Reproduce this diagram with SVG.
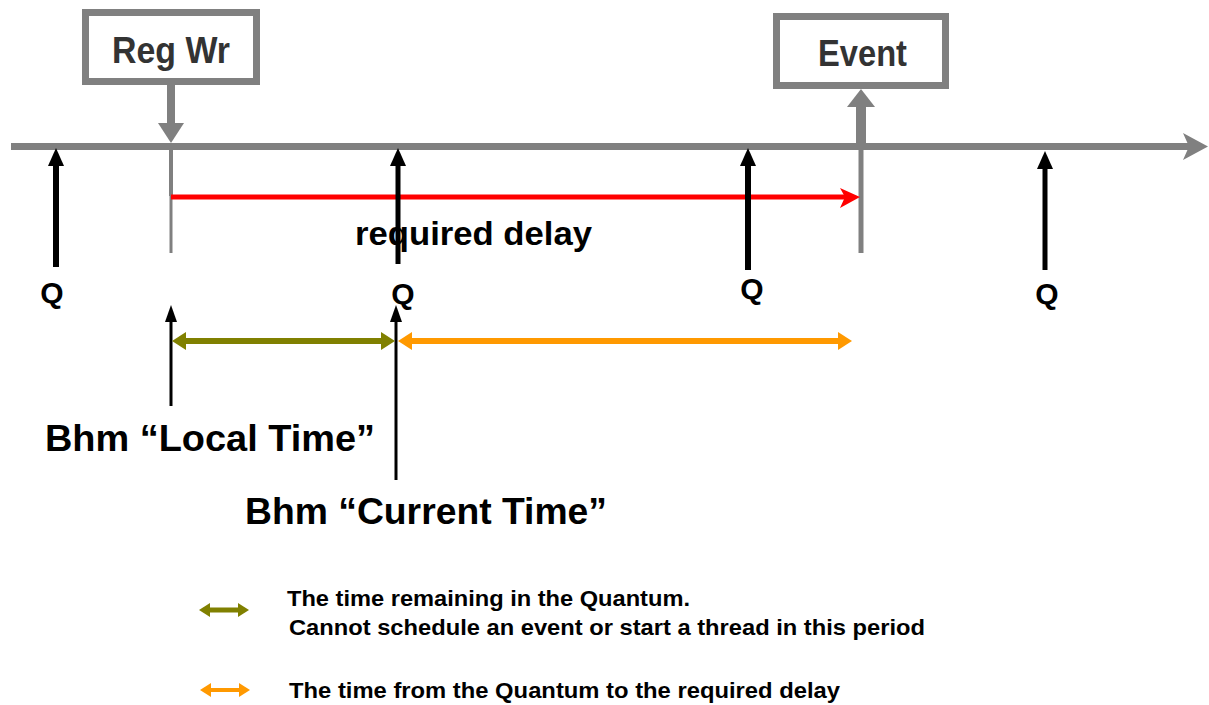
<svg xmlns="http://www.w3.org/2000/svg" width="1209" height="705" viewBox="0 0 1209 705">
<style>
.t{font-family:"Liberation Sans",Arial,sans-serif;font-weight:bold;fill:#000}
.box{fill:#fff;stroke:#808080;stroke-width:7}
.boxt{font-family:"Liberation Sans",Arial,sans-serif;font-weight:bold;fill:#333;font-size:37px}
.gray{stroke:#808080;fill:none}
.blk{stroke:#000;fill:none}
</style>
<rect width="1209" height="705" fill="#fff"/>
<g id="connectors">
  <!-- main time axis -->
  <line class="gray" x1="11" y1="146.5" x2="1192" y2="146.5" stroke-width="7"/>
  <polygon points="1183,133 1208,146.5 1183,160 1189,146.5" fill="#808080"/>
  <!-- Reg Wr arrow down -->
  <line class="gray" x1="171" y1="85" x2="171" y2="126" stroke-width="8"/>
  <polygon points="158,123 184,123 171,143" fill="#808080"/>
  <line class="gray" x1="171" y1="150" x2="171" y2="196" stroke-width="4"/>
  <line class="gray" x1="171" y1="196" x2="171" y2="253" stroke-width="3"/>
  <!-- Event arrow up -->
  <line class="gray" x1="861" y1="104" x2="861" y2="147" stroke-width="10"/>
  <polygon points="847,107 875,107 861,89" fill="#808080"/>
  <line class="gray" x1="861" y1="150" x2="861" y2="253" stroke-width="5"/>
  <!-- required delay -->
  <line x1="171" y1="197" x2="846" y2="197" stroke="#ff0000" stroke-width="5"/>
  <polygon points="840,188 860,197 840,208 845,197" fill="#ff0000"/>
  <!-- Q arrows -->
  <line class="blk" x1="56" y1="160" x2="56" y2="267" stroke-width="6"/>
  <polygon points="48,166 64,166 56,148" fill="#000"/>
  <line class="blk" x1="398" y1="160" x2="398" y2="264" stroke-width="5"/>
  <polygon points="390,166 406,166 398,148" fill="#000"/>
  <line class="blk" x1="748" y1="160" x2="748" y2="270" stroke-width="6"/>
  <polygon points="740,166 756,166 748,148" fill="#000"/>
  <line class="blk" x1="1045" y1="164" x2="1045" y2="270" stroke-width="5"/>
  <polygon points="1037,169 1053,169 1045,151" fill="#000"/>
  <!-- Local / Current time arrows -->
  <line class="blk" x1="171" y1="318" x2="171" y2="406" stroke-width="3"/>
  <polygon points="165,322 177,322 171,305" fill="#000"/>
  <line class="blk" x1="396" y1="318" x2="396" y2="480" stroke-width="3"/>
  <polygon points="390,322 402,322 396,305" fill="#000"/>
  <!-- olive double arrow -->
  <line x1="180" y1="341" x2="387" y2="341" stroke="#808000" stroke-width="6"/>
  <polygon points="172,341 186,332 186,350" fill="#808000"/>
  <polygon points="395,341 381,332 381,350" fill="#808000"/>
  <!-- orange double arrow -->
  <line x1="406" y1="341" x2="844" y2="341" stroke="#ff9900" stroke-width="6"/>
  <polygon points="398,341 412,332 412,350" fill="#ff9900"/>
  <polygon points="852,341 838,332 838,350" fill="#ff9900"/>
  <!-- legend arrows -->
  <line x1="206" y1="610" x2="242" y2="610" stroke="#808000" stroke-width="5"/>
  <polygon points="199,610 210,603 210,617" fill="#808000"/>
  <polygon points="249,610 238,603 238,617" fill="#808000"/>
  <line x1="207" y1="690" x2="243" y2="690" stroke="#ff9900" stroke-width="4"/>
  <polygon points="200,690 211,683 211,697" fill="#ff9900"/>
  <polygon points="250,690 239,683 239,697" fill="#ff9900"/>
</g>
<g id="regwr">
  <rect class="box" x="85.5" y="12.5" width="171" height="69"/>
  <text class="boxt" x="112" y="63" textLength="118" lengthAdjust="spacingAndGlyphs">Reg Wr</text>
</g>
<g id="event">
  <rect class="box" x="776.5" y="16.5" width="169" height="69"/>
  <text class="boxt" x="818" y="66" textLength="89" lengthAdjust="spacingAndGlyphs">Event</text>
</g>
<g id="q-labels">
  <text class="t" x="52" y="303" font-size="30" text-anchor="middle">Q</text>
  <text class="t" x="403" y="304" font-size="30" text-anchor="middle">Q</text>
  <text class="t" x="752" y="299" font-size="30" text-anchor="middle">Q</text>
  <text class="t" x="1047" y="304" font-size="30" text-anchor="middle">Q</text>
</g>
<g id="required-delay">
  <text class="t" x="355" y="245" font-size="34" textLength="237" lengthAdjust="spacingAndGlyphs">required delay</text>
</g>
<g id="local-time">
  <text class="t" x="45" y="451" font-size="37" textLength="330" lengthAdjust="spacingAndGlyphs">Bhm “Local Time”</text>
</g>
<g id="current-time">
  <text class="t" x="245" y="524" font-size="37" textLength="362" lengthAdjust="spacingAndGlyphs">Bhm “Current Time”</text>
</g>
<g id="legend">
  <text class="t" x="287" y="606" font-size="22" textLength="403" lengthAdjust="spacingAndGlyphs">The time remaining in the Quantum.</text>
  <text class="t" x="289" y="635" font-size="22" textLength="636" lengthAdjust="spacingAndGlyphs">Cannot schedule an event or start a thread in this period</text>
  <text class="t" x="289" y="698" font-size="22" textLength="551" lengthAdjust="spacingAndGlyphs">The time from the Quantum to the required delay</text>
</g>
</svg>
